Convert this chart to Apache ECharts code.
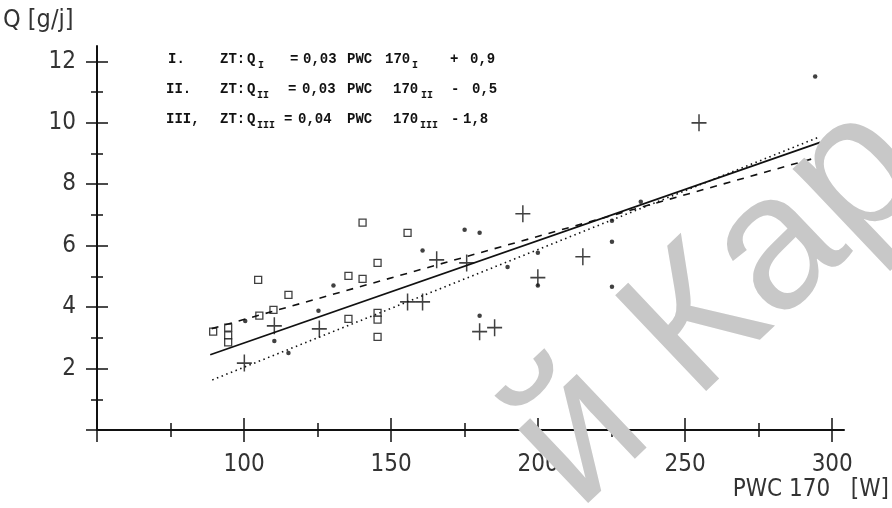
<!DOCTYPE html>
<html>
<head>
<meta charset="utf-8">
<script src="https://cdn.jsdelivr.net/npm/echarts@6/dist/echarts.min.js"></script>
<style>
  html, body { margin: 0; padding: 0; background: #fff; }
  #chart { width: 892px; height: 508px; }
</style>
</head>
<body>
<div id="chart"></div>
<script>
// axis ticks and labels
const xMajorTicks = [50, 100, 150, 200, 250, 300];
const xLabels = [100, 150, 200, 250, 300];
const xMinorTicks = [75, 125, 175, 225, 275];
const yMajorTicks = [0, 2, 4, 6, 8, 10, 12];
const yLabels = [2, 4, 6, 8, 10, 12];
const yMinorTicks = [1, 3, 5, 7, 9, 11];

// measured points [PWC 170, Q]
const squarePoints = [
  [89.5, 3.2], [94.6, 3.33], [94.6, 3.08], [94.6, 2.85], [104.8, 4.89], [105.2, 3.72],
  [110, 3.91], [115.1, 4.4], [135.5, 5.02], [135.5, 3.62], [140.3, 6.75], [140.3, 4.92],
  [145.4, 5.44], [145.4, 3.81], [145.4, 3.59], [145.4, 3.03], [155.6, 6.42]
];
const dotPoints = [
  [100.4, 3.55], [110.3, 2.9], [115.1, 2.51], [125.3, 3.88], [130.4, 4.7], [160.7, 5.84],
  [175, 6.52], [180.1, 6.42], [180.1, 3.72], [189.6, 5.31], [199.9, 5.77], [199.9, 4.7],
  [225.1, 6.81], [225.1, 6.13], [225.1, 4.66], [234.9, 7.43], [294.2, 11.51]
];
const crossPoints = [
  [100.1, 2.18], [110.3, 3.39], [125.6, 3.29], [155.6, 4.17], [160.7, 4.17], [165.5, 5.54],
  [175.7, 5.44], [180.1, 3.2], [185.2, 3.33], [194.8, 7.04], [199.9, 4.96], [215.2, 5.64],
  [254.7, 10.0]
];

// regression lines, end points
const lineSolid = [[88.5, 2.45], [295.9, 9.36]];
const lineDashed = [[89, 3.3], [295.9, 8.9]];
const lineDotted = [[89.2, 1.63], [295.9, 9.55]];

// equation rows: [text, x] and subscripts [text, x]
const eqRows = [
  { y: 59, parts: [['I.', 168], ['ZT:', 220], ['Q', 247], ['=', 290], ['0,03', 303], ['PWC', 347], ['170', 385], ['+', 450], ['0,9', 470]],
    subs: [['I', 258], ['I', 412]] },
  { y: 89, parts: [['II.', 166], ['ZT:', 220], ['Q', 247], ['=', 288], ['0,03', 302], ['PWC', 347], ['170', 393], ['-', 451], ['0,5', 472]],
    subs: [['II', 257], ['II', 421]] },
  { y: 119, parts: [['III,', 166], ['ZT:', 220], ['Q', 247], ['=', 284], ['0,04', 298], ['PWC', 347], ['170', 393], ['-', 451], ['1,8', 463]],
    subs: [['III', 257], ['III', 420]] }
];

const ink = '#111';
const labelFont = "'Liberation Sans Narrow', 'DejaVu Sans Condensed', 'Liberation Sans', sans-serif";
const eqFont = "'Liberation Mono', 'DejaVu Sans Mono', monospace";

function xAxis(ticks, len, inside, labels) {
  return {
    type: 'value', min: 50, max: 304, position: 'bottom',
    axisLine: { show: !!labels, onZero: false, lineStyle: { color: ink, width: 2 } },
    axisTick: { show: true, inside: inside, length: len, customValues: ticks, lineStyle: { color: ink, width: 1.5 } },
    axisLabel: labels
      ? { show: true, customValues: labels, margin: 23, color: '#333', fontSize: 24, fontFamily: labelFont }
      : { show: false },
    splitLine: { show: false }
  };
}

function yAxis(ticks, len, inside, labels) {
  return {
    type: 'value', min: 0, max: 12.5, position: 'left',
    axisLine: { show: !!labels, onZero: false, lineStyle: { color: ink, width: 2 } },
    axisTick: { show: true, inside: inside, length: len, customValues: ticks, lineStyle: { color: ink, width: 1.5 } },
    axisLabel: labels
      ? { show: true, customValues: labels, margin: 21, color: '#333', fontSize: 24, fontFamily: labelFont }
      : { show: false },
    splitLine: { show: false }
  };
}

const graphics = [
  { type: 'text', x: 3, y: 8, style: { text: 'Q [g/j]', fill: '#333', fontSize: 25, fontFamily: labelFont } },
  { type: 'text', x: 889, y: 478, style: { text: 'PWC 170   [W]', fill: '#333', fontSize: 24, fontFamily: labelFont, align: 'right', textAlign: 'right' } },
  // watermark
  { type: 'text', x: 542, y: 474, rotation: 0.76, z: 100, silent: true,
    style: { text: 'й Кар', fill: '#c8c8c8', fontSize: 192, fontFamily: "'Liberation Sans', Arial, sans-serif",
      align: 'left', textAlign: 'left', verticalAlign: 'middle', textVerticalAlign: 'middle' } }
];
eqRows.forEach(row => {
  row.parts.forEach(p => graphics.push({
    type: 'text', x: p[1], y: row.y,
    style: { text: p[0], fill: ink, fontSize: 14, fontWeight: 'bold', fontFamily: eqFont, verticalAlign: 'middle', textVerticalAlign: 'middle' }
  }));
  row.subs.forEach(s => graphics.push({
    type: 'text', x: s[1], y: row.y + 6,
    style: { text: s[0], fill: ink, fontSize: 10, fontWeight: 'bold', fontFamily: eqFont, verticalAlign: 'middle', textVerticalAlign: 'middle' }
  }));
});

const chart = echarts.init(document.getElementById('chart'), null, { renderer: 'canvas' });
chart.setOption({
  animation: false,
  backgroundColor: '#fff',
  grid: { left: 97, right: 48, top: 46, bottom: 78 },
  xAxis: [
    xAxis(xMajorTicks, 12, false, xLabels),
    xAxis(xMajorTicks, 12, true, null),
    xAxis(xMinorTicks, 7, false, null),
    xAxis(xMinorTicks, 7, true, null)
  ],
  yAxis: [
    yAxis(yMajorTicks, 11, false, yLabels),
    yAxis(yMajorTicks, 11, true, null),
    yAxis(yMinorTicks, 6, false, null),
    yAxis(yMinorTicks, 6, true, null)
  ],
  graphic: graphics,
  series: [
    { type: 'line', data: lineSolid, symbol: 'none', lineStyle: { color: ink, width: 1.8 } },
    { type: 'line', data: lineDashed, symbol: 'none', lineStyle: { color: ink, width: 1.6, type: [7, 7] } },
    { type: 'line', data: lineDotted, symbol: 'none', lineStyle: { color: ink, width: 1.6, type: [1.5, 3.5] } },
    { type: 'scatter', data: squarePoints, symbol: 'rect', symbolSize: 7,
      itemStyle: { color: '#fff', borderColor: ink, borderWidth: 1.3 } },
    { type: 'scatter', data: dotPoints, symbol: 'circle', symbolSize: 4.5, itemStyle: { color: ink } },
    { type: 'scatter', data: crossPoints, symbol: 'path://M4.5,0h1v10h-1z M0,4.5h10v1h-10z', symbolSize: [15, 17],
      itemStyle: { color: ink } }
  ]
});
</script>
</body>
</html>
